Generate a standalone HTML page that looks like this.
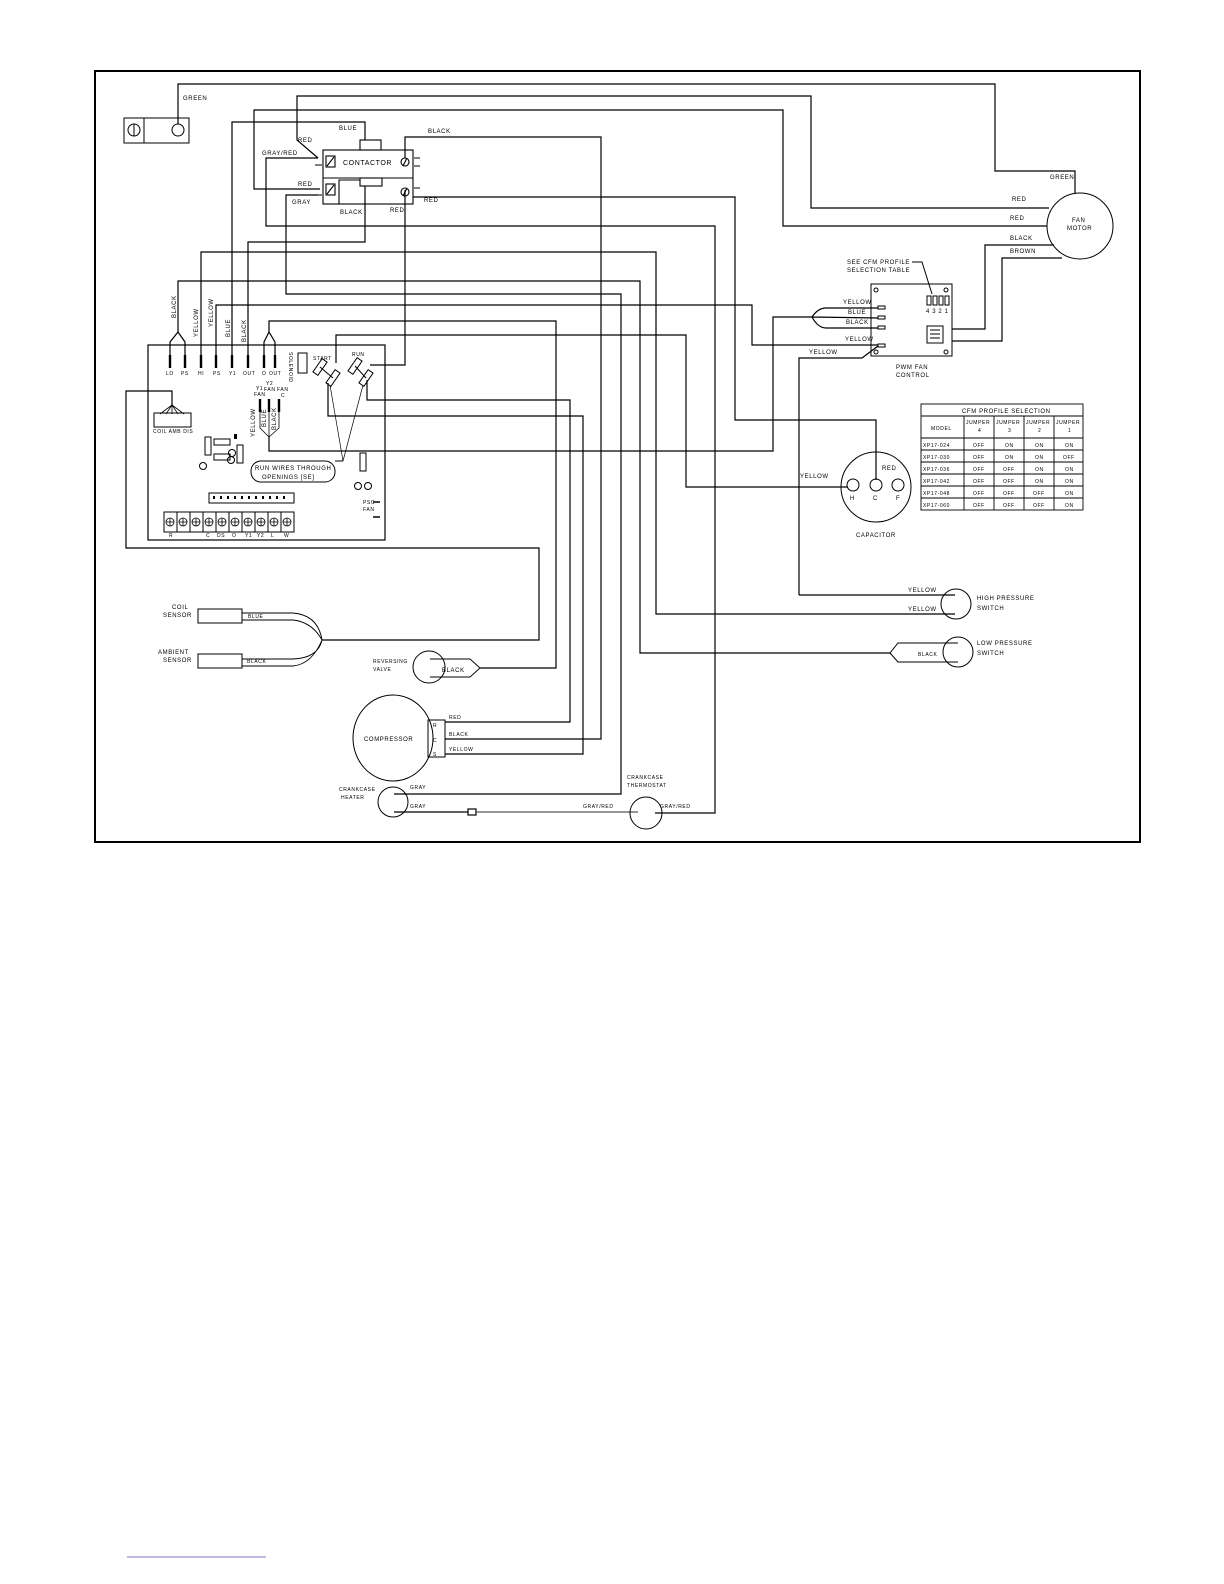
<!DOCTYPE html>
<html><head><meta charset="utf-8"><style>
html,body{margin:0;padding:0;background:#fff}
svg{display:block}
text{font-family:"Liberation Sans",sans-serif;font-size:7px;fill:#000;letter-spacing:0.6px}
.t6{font-size:6px}
.t5{font-size:5px}
</style></head><body>
<svg width="1224" height="1584" viewBox="0 0 1224 1584" xmlns="http://www.w3.org/2000/svg">
<rect x="95" y="71" width="1045" height="771" fill="none" stroke="#000" stroke-width="2"/>
<g fill="none" stroke="#000" stroke-width="1.2">
<!-- green -->
<polyline points="178,124 178,84 995,84 995,171 1075,171 1075,194"/>
<!-- red y96 -->
<polyline points="318,158 297,140 297,96 811,96 811,208 1049,208"/>
<!-- red y110 -->
<polyline points="320,189 254,189 254,110 783,110 783,226 1047,226"/>
<!-- blue -->
<polyline points="232,355 232,122 365,122 365,140"/>
<!-- black top -->
<polyline points="405,158 405,137 601,137 601,739 445,739"/>
<!-- red contactor right to cap C -->
<polyline points="413,197 735,197 735,420 876,420 876,480"/>
<!-- red contactor bottom to RUN -->
<polyline points="405,190 405,365 370,365"/>
<!-- gray/red -->
<polyline points="318,158 266,158 266,226 715,226 715,813 655,813"/>
<!-- black contactor bottom -->
<polyline points="365,186 365,242 248,242 248,355"/>
<!-- yellow HI to high pressure -->
<polyline points="201,355 201,252 656,252 656,614 955,614"/>
<!-- black LO/PS to low pressure -->
<polyline points="178,332 178,281 640,281 640,653 890,653"/>
<polyline points="170,355 170,342 178,332 185,342 185,355"/>
<!-- gray -->
<polyline points="318,195 286,195 286,294 621,294 621,794 394,794"/>
<!-- yellow PS to PWM -->
<polyline points="216,355 216,305 752,305 752,345 878,345"/>
<!-- O/OUT to reversing valve -->
<polyline points="269,332 269,321 556,321 556,668 480,668"/>
<polyline points="264,355 264,342 269,332 275,342 275,355"/>
<!-- START to cap H -->
<polyline points="336,363 336,335 686,335 686,487 848,487"/>
<!-- START bottom to compressor yellow -->
<polyline points="328,383 328,416 583,416 583,754 445,754"/>
<!-- RUN to compressor red -->
<polyline points="367,380 367,400 570,400 570,722 445,722"/>
<!-- fan wires to PWM -->
<polyline points="269,437 269,451 773,451 773,317 812,317"/>
<path d="M812,317 Q818,308 826,308 L878,308 M812,317 L878,318 M812,317 Q818,328 826,328 L878,328"/>
<!-- yellow lower to high pressure -->
<polyline points="799,595 799,358 862,358 878,346"/>
<line x1="799" y1="595" x2="955" y2="595"/>
<!-- coil/amb left wire -->
<polyline points="172,405 172,391 126,391 126,548 539,548 539,640 322,640"/>
<!-- fan motor black/brown -->
<polyline points="952,329 985,329 985,245 1054,245"/>
<polyline points="952,341 1002,341 1002,258 1062,258"/>
<!-- crankcase heater to thermostat -->
<line x1="394" y1="812" x2="468" y2="812"/>
<rect x="468" y="809" width="8" height="6" fill="#fff"/>
<line x1="476" y1="812" x2="638" y2="812" stroke="#555"/>
</g>

<!-- ground block -->
<g fill="none" stroke="#000" stroke-width="1">
<rect x="124" y="118" width="65" height="25"/>
<line x1="144" y1="118" x2="144" y2="143"/>
<circle cx="134" cy="130" r="6"/><line x1="134" y1="124" x2="134" y2="136"/>
<circle cx="178" cy="130" r="6" fill="#fff"/>
</g>

<!-- contactor -->
<g fill="none" stroke="#000" stroke-width="1.1">
<rect x="323" y="150" width="90" height="54"/>
<line x1="323" y1="178" x2="413" y2="178"/>
<rect x="360" y="140" width="21" height="10" fill="#fff"/>
<rect x="360" y="178" width="22" height="8"/>
<polyline points="339,204 339,180 360,180"/>
<rect x="326" y="156" width="9" height="11"/><line x1="327" y1="166" x2="334" y2="157"/>
<rect x="326" y="184" width="9" height="11"/><line x1="327" y1="194" x2="334" y2="185"/>
<circle cx="405" cy="162" r="4"/><line x1="403" y1="166" x2="407" y2="158"/>
<circle cx="405" cy="192" r="4"/><line x1="403" y1="196" x2="407" y2="188"/>
<path d="M315,165 H322 M315,195 H322 M414,158 H420 M414,166 H420 M414,188 H420"/>
</g>
<text x="343" y="165">CONTACTOR</text>
<text x="183" y="100" class="t6">GREEN</text>
<text x="298" y="142" class="t6">RED</text>
<text x="339" y="130" class="t6">BLUE</text>
<text x="428" y="133" class="t6">BLACK</text>
<text x="262" y="155" class="t6">GRAY/RED</text>
<text x="298" y="186" class="t6">RED</text>
<text x="292" y="204" class="t6">GRAY</text>
<text x="340" y="214" class="t6">BLACK</text>
<text x="390" y="212" class="t6">RED</text>
<text x="424" y="202" class="t6">RED</text>

<!-- vertical labels -->
<text class="t6" transform="translate(176,318) rotate(-90)">BLACK</text>
<text class="t6" transform="translate(198,337) rotate(-90)">YELLOW</text>
<text class="t6" transform="translate(213,327) rotate(-90)">YELLOW</text>
<text class="t6" transform="translate(230,337) rotate(-90)">BLUE</text>
<text class="t6" transform="translate(246,342) rotate(-90)">BLACK</text>

<!-- board -->
<rect x="148" y="345" width="237" height="195" fill="none" stroke="#000" stroke-width="1.2"/>
<g stroke="#000" stroke-width="2.4">
<path d="M170,355V368 M185,355V368 M201,355V368 M216,355V368 M232,355V368 M248,355V368 M264,355V368 M275,355V368"/>
<path d="M260,399V412 M269,399V412 M279,399V412"/>
</g>
<g class="t5">
<text x="166" y="375" class="t5">LO</text><text x="181" y="375" class="t5">PS</text><text x="198" y="375" class="t5">HI</text>
<text x="213" y="375" class="t5">PS</text><text x="229" y="375" class="t5">Y1</text><text x="243" y="375" class="t5">OUT</text>
<text x="262" y="375" class="t5">O</text><text x="269" y="375" class="t5">OUT</text>
</g>
<rect x="298" y="353" width="9" height="20" fill="none" stroke="#000"/>
<text class="t5" transform="translate(289,352) rotate(90)">SOLENOID</text>
<text x="313" y="360" class="t5">START</text>
<text x="352" y="356" class="t5">RUN</text>
<g fill="none" stroke="#000">
<rect x="312" y="364" width="16" height="6" transform="rotate(-55 320 367)"/>
<rect x="325" y="375" width="16" height="6" transform="rotate(-55 333 378)"/>
<line x1="320" y1="367" x2="333" y2="378"/>
<rect x="347" y="363" width="16" height="6" transform="rotate(-55 355 366)"/>
<rect x="358" y="375" width="16" height="6" transform="rotate(-55 366 378)"/>
<line x1="355" y1="366" x2="366" y2="378"/>
<line x1="343" y1="461" x2="330" y2="385" stroke-width="0.7"/>
<line x1="343" y1="461" x2="363" y2="385" stroke-width="0.7"/>
<line x1="335" y1="461" x2="343" y2="461"/>
<rect x="251" y="461" width="84" height="21" rx="10"/>
<rect x="154" y="413" width="37" height="14"/>
<path d="M172,405 L160,414 M172,405 L166,414 M172,405 L172,414 M172,405 L178,414 M172,405 L184,414" stroke-width="0.8"/>
<path d="M260,412 L260,428 L269,437 M269,412 L269,437 M279,412 L279,428 L269,437" stroke-width="0.8"/>
<rect x="205" y="437" width="6" height="18"/>
<rect x="214" y="439" width="16" height="6"/>
<rect x="214" y="454" width="16" height="6"/>
<rect x="237" y="445" width="6" height="18"/>
<circle cx="232" cy="453" r="3.5"/><circle cx="231" cy="460" r="3.5"/>
<circle cx="203" cy="466" r="3.5"/>
<rect x="360" y="453" width="6" height="18"/>
<circle cx="358" cy="486" r="3.5"/><circle cx="368" cy="486" r="3.5"/>
<rect x="209" y="493" width="85" height="10"/>
<rect x="164" y="512" width="130" height="20"/>
<path d="M177,512V532 M190,512V532 M203,512V532 M216,512V532 M229,512V532 M242,512V532 M255,512V532 M268,512V532 M281,512V532"/>
<path d="M373,502H380 M373,517H380" stroke-width="1.5"/>
</g>
<g fill="none" stroke="#000" stroke-width="0.8">
<circle cx="170" cy="522" r="4"/><circle cx="183" cy="522" r="4"/><circle cx="196" cy="522" r="4"/><circle cx="209" cy="522" r="4"/><circle cx="222" cy="522" r="4"/><circle cx="235" cy="522" r="4"/><circle cx="248" cy="522" r="4"/><circle cx="261" cy="522" r="4"/><circle cx="274" cy="522" r="4"/><circle cx="287" cy="522" r="4"/>
<path d="M166,522H174M170,518V526 M179,522H187M183,518V526 M192,522H200M196,518V526 M205,522H213M209,518V526 M218,522H226M222,518V526 M231,522H239M235,518V526 M244,522H252M248,518V526 M257,522H265M261,518V526 M270,522H278M274,518V526 M283,522H291M287,518V526"/>
</g>
<g fill="#000">
<rect x="213" y="496" width="2" height="3"/><rect x="220" y="496" width="2" height="3"/><rect x="227" y="496" width="2" height="3"/><rect x="234" y="496" width="2" height="3"/><rect x="241" y="496" width="2" height="3"/><rect x="248" y="496" width="2" height="3"/><rect x="255" y="496" width="2" height="3"/><rect x="262" y="496" width="2" height="3"/><rect x="269" y="496" width="2" height="3"/><rect x="276" y="496" width="2" height="3"/><rect x="283" y="496" width="2" height="3"/>
<rect x="234" y="434" width="3" height="5"/><rect x="237" y="452" width="0" height="0"/>
</g>
<text x="153" y="433" class="t5">COIL AMB DIS</text>
<text x="256" y="390" class="t5">Y1</text><text x="254" y="396" class="t5">FAN</text>
<text x="266" y="385" class="t5">Y2</text><text x="264" y="391" class="t5">FAN</text>
<text x="277" y="391" class="t5">FAN</text><text x="281" y="397" class="t5">C</text>
<text class="t6" transform="translate(255,437) rotate(-90)">YELLOW</text>
<text class="t6" transform="translate(266,427) rotate(-90)">BLUE</text>
<text class="t6" transform="translate(276,430) rotate(-90)">BLACK</text>
<text x="255" y="470" class="t6">RUN WIRES THROUGH</text>
<text x="262" y="479" class="t6">OPENINGS  [SE]</text>
<text x="363" y="504" class="t5">PSC</text><text x="363" y="511" class="t5">FAN</text>
<g class="t5"><text x="169" y="537" class="t5">R</text><text x="206" y="537" class="t5">C</text><text x="217" y="537" class="t5">DS</text><text x="232" y="537" class="t5">O</text><text x="245" y="537" class="t5">Y1</text><text x="257" y="537" class="t5">Y2</text><text x="271" y="537" class="t5">L</text><text x="284" y="537" class="t5">W</text></g>

<!-- fan motor -->
<circle cx="1080" cy="226" r="33" fill="none" stroke="#000"/>
<text x="1072" y="222" class="t6">FAN</text><text x="1067" y="230" class="t6">MOTOR</text>
<text x="1050" y="179" class="t6">GREEN</text>
<text x="1012" y="201" class="t6">RED</text>
<text x="1010" y="220" class="t6">RED</text>
<text x="1010" y="240" class="t6">BLACK</text>
<text x="1010" y="253" class="t6">BROWN</text>

<!-- PWM -->
<g fill="none" stroke="#000">
<rect x="871" y="284" width="81" height="72"/>
<rect x="878" y="306" width="7" height="3"/><rect x="878" y="316" width="7" height="3"/><rect x="878" y="326" width="7" height="3"/><rect x="878" y="344" width="7" height="3"/>
<rect x="927" y="296" width="4" height="9"/><rect x="933" y="296" width="4" height="9"/><rect x="939" y="296" width="4" height="9"/><rect x="945" y="296" width="4" height="9"/>
<rect x="927" y="326" width="16" height="17"/>
<path d="M930,330H940 M930,334H940 M930,338H940"/>
<circle cx="876" cy="290" r="2"/><circle cx="946" cy="290" r="2"/><circle cx="876" cy="352" r="2"/><circle cx="946" cy="352" r="2"/>
<polyline points="912,262 922,262 932,294"/>
</g>
<text x="926" y="313" class="t6">4 3 2 1</text>
<text x="847" y="264" class="t6">SEE CFM PROFILE</text>
<text x="847" y="272" class="t6">SELECTION TABLE</text>
<text x="843" y="304" class="t6">YELLOW</text>
<text x="848" y="314" class="t6">BLUE</text>
<text x="846" y="324" class="t6">BLACK</text>
<text x="845" y="341" class="t6">YELLOW</text>
<text x="809" y="354" class="t6">YELLOW</text>
<text x="896" y="369" class="t6">PWM FAN</text>
<text x="896" y="377" class="t6">CONTROL</text>

<!-- CFM table -->
<g fill="none" stroke="#000" stroke-width="0.9">
<rect x="921" y="404" width="162" height="106"/>
<path d="M921,416H1083 M921,438H1083 M921,450H1083 M921,462H1083 M921,474H1083 M921,486H1083 M921,498H1083 M964,416V510 M994,416V510 M1024,416V510 M1054,416V510"/>
</g>
<g class="t5">
<text x="962" y="413" class="t6">CFM PROFILE SELECTION</text>
<text x="931" y="430" class="t5">MODEL</text>
<text x="966" y="424" class="t5">JUMPER</text><text x="978" y="432" class="t5">4</text>
<text x="996" y="424" class="t5">JUMPER</text><text x="1008" y="432" class="t5">3</text>
<text x="1026" y="424" class="t5">JUMPER</text><text x="1038" y="432" class="t5">2</text>
<text x="1056" y="424" class="t5">JUMPER</text><text x="1068" y="432" class="t5">1</text>
<text x="923" y="447" class="t5">XP17-024</text><text x="973" y="447" class="t5">OFF</text><text x="1005" y="447" class="t5">ON</text><text x="1035" y="447" class="t5">ON</text><text x="1065" y="447" class="t5">ON</text>
<text x="923" y="459" class="t5">XP17-030</text><text x="973" y="459" class="t5">OFF</text><text x="1005" y="459" class="t5">ON</text><text x="1035" y="459" class="t5">ON</text><text x="1063" y="459" class="t5">OFF</text>
<text x="923" y="471" class="t5">XP17-036</text><text x="973" y="471" class="t5">OFF</text><text x="1003" y="471" class="t5">OFF</text><text x="1035" y="471" class="t5">ON</text><text x="1065" y="471" class="t5">ON</text>
<text x="923" y="483" class="t5">XP17-042</text><text x="973" y="483" class="t5">OFF</text><text x="1003" y="483" class="t5">OFF</text><text x="1035" y="483" class="t5">ON</text><text x="1065" y="483" class="t5">ON</text>
<text x="923" y="495" class="t5">XP17-048</text><text x="973" y="495" class="t5">OFF</text><text x="1003" y="495" class="t5">OFF</text><text x="1033" y="495" class="t5">OFF</text><text x="1065" y="495" class="t5">ON</text>
<text x="923" y="507" class="t5">XP17-060</text><text x="973" y="507" class="t5">OFF</text><text x="1003" y="507" class="t5">OFF</text><text x="1033" y="507" class="t5">OFF</text><text x="1065" y="507" class="t5">ON</text>
</g>

<!-- capacitor -->
<g fill="none" stroke="#000">
<circle cx="876" cy="487" r="35"/>
<circle cx="853" cy="485" r="6"/><circle cx="876" cy="485" r="6"/><circle cx="898" cy="485" r="6"/>
</g>
<text x="850" y="500" class="t6">H</text><text x="873" y="500" class="t6">C</text><text x="896" y="500" class="t6">F</text>
<text x="882" y="470" class="t6">RED</text>
<text x="800" y="478" class="t6">YELLOW</text>
<text x="856" y="537" class="t6">CAPACITOR</text>

<!-- pressure switches -->
<g fill="none" stroke="#000">
<circle cx="956" cy="604" r="15"/>
<circle cx="958" cy="652" r="15"/>
<path d="M890,653 L898,643 H958 M890,653 L898,662 H958"/>
</g>
<text x="908" y="592" class="t6">YELLOW</text>
<text x="908" y="611" class="t6">YELLOW</text>
<text x="918" y="656" class="t5">BLACK</text>
<text x="977" y="600" class="t6">HIGH PRESSURE</text><text x="977" y="610" class="t6">SWITCH</text>
<text x="977" y="645" class="t6">LOW PRESSURE</text><text x="977" y="655" class="t6">SWITCH</text>

<!-- sensors -->
<g fill="none" stroke="#000">
<rect x="198" y="609" width="44" height="14"/>
<rect x="198" y="654" width="44" height="14"/>
<path d="M242,613H293 Q318,615 322,640 M242,620H293 Q312,622 322,640 M242,659H293 Q318,658 322,640 M242,666H293 Q312,664 322,640" stroke-width="0.9"/>
<circle cx="429" cy="667" r="16"/>
<path d="M430,659H470 L480,668 L470,677 H430" stroke-width="0.9"/>
<ellipse cx="393" cy="738" rx="40" ry="43"/>
<rect x="428" y="720" width="17" height="37"/>
<circle cx="393" cy="802" r="15"/>
<circle cx="646" cy="813" r="16"/>
</g>
<text x="172" y="609" class="t6">COIL</text><text x="163" y="617" class="t6">SENSOR</text>
<text x="158" y="654" class="t6">AMBIENT</text><text x="163" y="662" class="t6">SENSOR</text>
<text x="248" y="618" class="t5">BLUE</text>
<text x="247" y="663" class="t5">BLACK</text>
<text x="373" y="663" class="t5">REVERSING</text><text x="373" y="671" class="t5">VALVE</text>
<text x="442" y="672" class="t6">BLACK</text>
<text x="364" y="741" class="t6">COMPRESSOR</text>
<text x="433" y="727" class="t5">R</text><text x="433" y="742" class="t5">C</text><text x="433" y="756" class="t5">S</text>
<text x="449" y="719" class="t5">RED</text><text x="449" y="736" class="t5">BLACK</text><text x="449" y="751" class="t5">YELLOW</text>
<text x="339" y="791" class="t5">CRANKCASE</text><text x="341" y="799" class="t5">HEATER</text>
<text x="410" y="789" class="t5">GRAY</text><text x="410" y="808" class="t5">GRAY</text>
<text x="583" y="808" class="t5">GRAY/RED</text>
<text x="660" y="808" class="t5">GRAY/RED</text>
<text x="627" y="779" class="t5">CRANKCASE</text><text x="627" y="787" class="t5">THERMOSTAT</text>

<line x1="127" y1="1557" x2="266" y2="1557" stroke="#7777cc" stroke-width="1"/>
</svg>
</body></html>
